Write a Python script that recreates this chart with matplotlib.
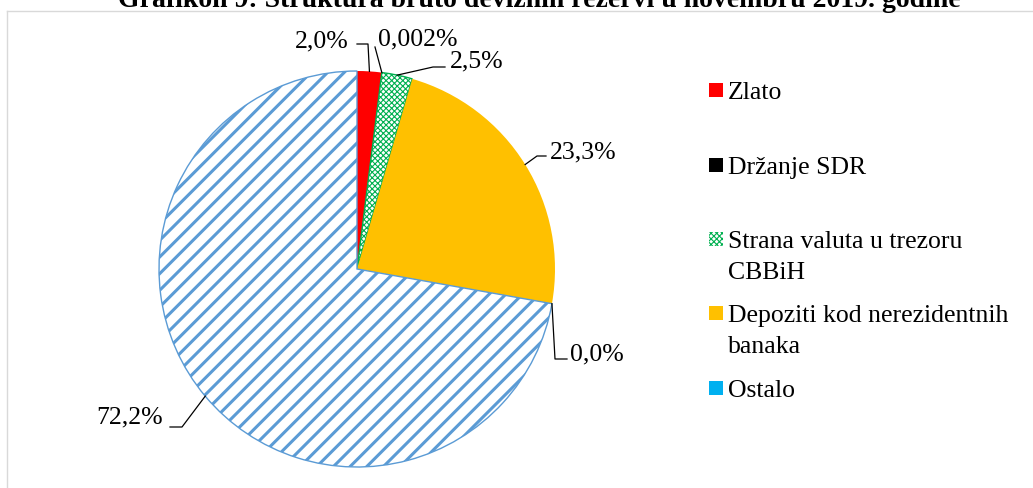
import matplotlib
matplotlib.use("Agg")
import numpy as np
import matplotlib.pyplot as plt
from matplotlib.patches import Rectangle
from matplotlib.lines import Line2D

plt.rcParams['font.family'] = ['Liberation Serif', 'DejaVu Serif']
plt.rcParams['hatch.linewidth'] = 2.2

W, H = 1033, 489
DPI = 100

title = "Grafikon 9: Struktura bruto deviznih rezervi u novembru 2019. godine"
categories = ["Zlato", "Držanje SDR", "Strana valuta u trezoru\nCBBiH",
              "Depoziti kod nerezidentnih\nbanaka", "Ostalo", ""]
shares = [2.0, 0.002, 2.5, 23.3, 0.0, 72.2]
value_labels = ["2,0%", "0,002%", "2,5%", "23,3%", "0,0%", "72,2%"]
colors = ["#FF0000", "#000000", "#00B050", "#FFC000", "#00B0F0", "#5B9BD5"]
hatches = [None, None, "xxxxxx", None, None, "//"]

# layout in pixels (from top-left of the figure)
CX, CY, R = 357, 270, 198
label_pos = [(349, 47, 'right'), (378, 45, 'left'), (450, 67, 'left'),
             (550, 158, 'left'), (570, 360, 'left'), (163, 423, 'right')]
leader_pts = [[(368, 45), (357, 45)], [(375, 48)], [(433, 68), (445, 68)],
              [(537, 157), (546, 157)], [(555, 360), (567, 360)],
              [(182, 428), (170, 428)]]
legend_y = [91, 166, 240, 314, 389]


def to_data(x, y):
    return (x - CX) / R, (CY - y) / R


def fig_xy(x, y):
    return x / W, 1 - y / H


fig = plt.figure(figsize=(W / DPI, H / DPI), dpi=DPI)
ax = fig.add_axes([(CX - R) / W, (H - CY - R) / H, 2 * R / W, 2 * R / H])

wedges, _ = ax.pie(shares, startangle=90, counterclock=False, radius=1,
                   colors=colors)
for w, c, h in zip(wedges, colors, hatches):
    if h:
        w.set_facecolor('white')
        w.set_edgecolor(c)
        w.set_hatch(h)
        w.set_linewidth(1.0)
        if h.startswith('x') and hasattr(w, 'set_hatch_linewidth'):
            w.set_hatch_linewidth(0.8)
    else:
        w.set_edgecolor('none')

ax.set_xlim(-1, 1)
ax.set_ylim(-1, 1)
ax.set_aspect('equal')
ax.axis('off')

for w, txt, (tx, ty, ha), pts in zip(wedges, value_labels, label_pos, leader_pts):
    mid = np.deg2rad((w.theta1 + w.theta2) / 2)
    xs = [np.cos(mid)] + [to_data(*p)[0] for p in pts]
    ys = [np.sin(mid)] + [to_data(*p)[1] for p in pts]
    ax.plot(xs, ys, color='black', lw=0.9, clip_on=False)
    x, y = to_data(tx, ty)
    ax.text(x, y, txt, ha=ha, va='baseline', fontsize=18.5)

# legend (first five categories)
for i, yc in enumerate(legend_y):
    x0, y0 = fig_xy(709, yc + 7)
    sq = Rectangle((x0, y0), 14 / W, 14 / H, transform=fig.transFigure,
                   facecolor='white' if hatches[i] else colors[i],
                   edgecolor=colors[i] if hatches[i] else 'none',
                   hatch=hatches[i], linewidth=0)
    if hatches[i] and hasattr(sq, 'set_hatch_linewidth'):
        sq.set_hatch_linewidth(0.8)
    fig.add_artist(sq)
    for j, line in enumerate(categories[i].split('\n')):
        fx, fy = fig_xy(728, yc + 8 + j * 31)
        fig.text(fx, fy, line, ha='left', va='baseline', fontsize=18.5)

# title (partly cut at the top) and chart border
tx, ty = fig_xy(539, 7)
fig.text(tx, ty, title, ha='center', va='baseline', fontsize=20,
         fontweight='bold')
fig.add_artist(Line2D([7 / W, 1], [1 - 12 / H, 1 - 12 / H],
                      transform=fig.transFigure, color='#D9D9D9', lw=1))
fig.add_artist(Line2D([7 / W, 7 / W], [0, 1 - 12 / H],
                      transform=fig.transFigure, color='#D9D9D9', lw=1))

fig.savefig("out.png", dpi=DPI)
